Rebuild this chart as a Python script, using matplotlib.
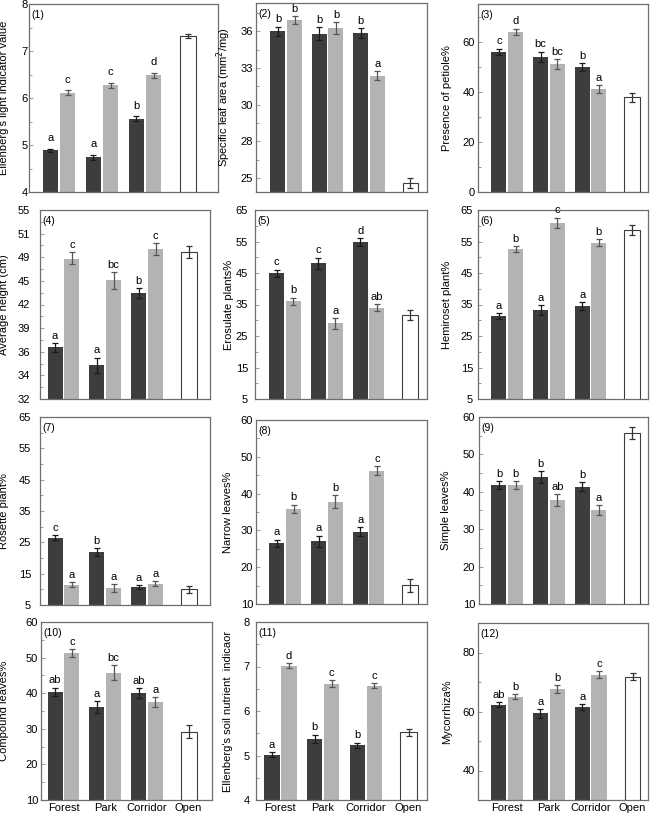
import numpy as np
import matplotlib
matplotlib.use("Agg")
import matplotlib.pyplot as plt

plt.rcParams['font.family'] = ['Liberation Sans', 'DejaVu Sans']

groups = ["Forest", "Park", "Corridor", "Open"]

ylabels = ["Ellenberg's light indicator value",
           "Specific leaf area (mm$^2$/mg)",
           "Presence of petiole%",
           "Average height (cm)",
           "Erosulate plants%",
           "Hemiroset plant%",
           "Rosette plant%",
           "Narrow leaves%",
           "Simple leaves%",
           "Compound leaves%",
           "Ellenberg's soil nutrient  indicaor",
           "Mycorrhiza%"]

# dark bars (Forest, Park, Corridor)
dark_mean = [[4.89, 4.74, 5.56], [36.0, 35.8, 35.86], [56.0, 54.0, 49.9],
             [36.57, 34.86, 43.46], [44.9, 48.1, 54.9], [31.3, 33.2, 34.6],
             [26.5, 21.9, 10.7], [26.5, 27.0, 29.7], [41.8, 44.0, 41.4],
             [40.4, 36.1, 40.0], [5.02, 5.37, 5.23], [62.3, 59.4, 61.5]]
dark_err = [[0.035, 0.055, 0.05], [0.37, 0.55, 0.4], [1.2, 2.0, 1.6],
            [0.56, 0.64, 0.63], [1.2, 1.8, 1.2], [0.9, 1.6, 1.2],
            [0.75, 1.2, 0.75], [1.0, 1.6, 1.1], [1.0, 1.6, 1.15],
            [1.2, 1.8, 1.35], [0.05, 0.1, 0.06], [0.8, 1.45, 1.1]]
dark_letters = [["a", "a", "b"], ["b", "b", "b"], ["c", "bc", "b"],
                ["a", "a", "b"], ["c", "c", "d"], ["a", "a", "a"],
                ["c", "b", "a"], ["a", "a", "a"], ["b", "b", "b"],
                ["ab", "a", "ab"], ["a", "b", "b"], ["ab", "a", "a"]]

# grey bars (Forest, Park, Corridor)
grey_mean = [[6.11, 6.27, 6.48], [36.9, 36.25, 32.37], [64.0, 51.1, 41.0],
             [48.66, 45.23, 49.71], [36.1, 29.0, 34.0], [52.7, 61.0, 54.6],
             [11.5, 10.4, 11.8], [35.9, 37.8, 46.2], [41.8, 37.8, 35.1],
             [51.3, 45.8, 37.4], [7.02, 6.61, 6.57], [65.0, 67.6, 72.5]]
grey_err = [[0.05, 0.057, 0.05], [0.31, 0.49, 0.4], [1.2, 2.0, 1.6],
            [0.77, 1.2, 0.49], [1.1, 1.7, 1.2], [0.9, 1.6, 1.1],
            [0.8, 1.3, 0.85], [1.1, 1.7, 1.2], [1.05, 1.7, 1.3],
            [1.1, 2.0, 1.4], [0.055, 0.08, 0.055], [0.85, 1.35, 1.1]]
grey_letters = [["c", "c", "d"], ["b", "b", "a"], ["d", "bc", "a"],
                ["c", "bc", "c"], ["b", "a", "ab"], ["b", "c", "b"],
                ["a", "a", "a"], ["b", "b", "c"], ["b", "ab", "a"],
                ["c", "bc", "a"], ["d", "c", "c"], ["b", "b", "c"]]

# open (single white bar)
open_mean = [7.32, 24.59, 37.8, 49.43, 31.7, 58.7, 10.0, 15.1, 55.7, 29.2, 5.52, 71.8]
open_err = [0.045, 0.44, 1.7, 0.53, 1.7, 1.55, 1.1, 1.8, 1.6, 1.8, 0.085, 1.1]

yticks = [[4, 5, 6, 7, 8], [25, 28, 30, 33, 36], [0, 20, 40, 60],
          [32, 34, 36, 39, 42, 45, 49, 51, 55],
          [5, 15, 25, 35, 45, 55, 65], [5, 15, 25, 35, 45, 55, 65],
          [5, 15, 25, 35, 45, 55, 65],
          [10, 20, 30, 40, 50, 60], [10, 20, 30, 40, 50, 60], [10, 20, 30, 40, 50, 60],
          [4, 5, 6, 7, 8], [40, 60, 80]]
ylims = [(4, 8), (23.86, 38.3), (0, 75), (32, 55), (5, 65), (5, 65), (5, 65),
         (10, 60), (10, 60), (10, 60), (4, 8), (30, 90)]
uneven = [False, True, False, True] + [False] * 8   # ticks evenly spaced, labels not

# layout in pixels: left, top, right, bottom
boxes = [(29, 4, 218, 192), (256, 3, 427, 192), (478, 4, 648, 192),
         (40, 210, 210, 399), (255, 210, 427, 399), (478, 210, 648, 399),
         (40, 417, 210, 605), (256, 420, 427, 604), (479, 417, 648, 604),
         (41, 622, 212, 800), (256, 622, 427, 800), (478, 623, 648, 800)]
xlims = [(-0.70, 3.70), (-0.73, 3.40), (-0.70, 3.38), (-0.56, 3.50),
         (-0.72, 3.40), (-0.70, 3.38), (-0.56, 3.51), (-0.70, 3.40),
         (-0.68, 3.38), (-0.54, 3.56), (-0.57, 3.43), (-0.69, 3.37)]
label_x = [9, 233, 452, 9, 234, 452, 9, 233, 451, 9, 233, 452]
ypads = [1, 3, 3, 10, 7, 5, 9, 3, 4, 3, 6, 3]

W, H = 650, 817
DARK, GREY = "#3d3d3d", "#b3b3b3"


def make_scale(ticks):
    v = np.array(ticks, float)
    p = np.arange(len(v), dtype=float)
    v = np.r_[v[0] - 5 * (v[1] - v[0]), v, v[-1] + 5 * (v[-1] - v[-2])]
    p = np.r_[-5.0, p, p[-1] + 5.0]
    return (lambda x: np.interp(x, v, p)), (lambda x: np.interp(x, p, v))


fig = plt.figure(figsize=(W / 100, H / 100), dpi=100)
x = np.arange(3)

for i in range(12):
    L, T, R, B = boxes[i]
    ax = fig.add_axes([L / W, 1 - B / H, (R - L) / W, (B - T) / H])

    if uneven[i]:
        fwd, inv = make_scale(yticks[i])
        ax.set_yscale('function', functions=(fwd, inv))
        pos = np.arange(len(yticks[i]))
        minors = inv(np.r_[pos - 0.5, pos[-1] + 0.5])
    else:
        t = np.array(yticks[i], float)
        step = t[1] - t[0]
        minors = np.r_[t - step / 2, t[-1] + step / 2]

    ax.bar(x - 0.2, dark_mean[i], width=0.36, color=DARK, zorder=2)
    ax.bar(x + 0.2, grey_mean[i], width=0.36, color=GREY, zorder=2)
    ax.bar(3, open_mean[i], width=0.38, color="white", edgecolor="#3d3d3d",
           linewidth=0.8, zorder=2)

    ax.errorbar(x - 0.2, dark_mean[i], yerr=dark_err[i], fmt='none', ecolor="#1a1a1a",
                elinewidth=0.9, capsize=2.5, capthick=0.9, zorder=3)
    ax.errorbar(x + 0.2, grey_mean[i], yerr=grey_err[i], fmt='none', ecolor="#555555",
                elinewidth=0.9, capsize=2.5, capthick=0.9, zorder=3)
    ax.errorbar([3], [open_mean[i]], yerr=[open_err[i]], fmt='none', ecolor="#333333",
                elinewidth=0.9, capsize=2.5, capthick=0.9, zorder=3)

    off = 5.5 if i == 0 else 3
    for j in range(3):
        ax.annotate(dark_letters[i][j], (x[j] - 0.2, dark_mean[i][j] + dark_err[i][j]),
                    xytext=(0, off), textcoords='offset points', ha='center',
                    va='baseline', fontsize=8)
        ax.annotate(grey_letters[i][j], (x[j] + 0.2, grey_mean[i][j] + grey_err[i][j]),
                    xytext=(0, off), textcoords='offset points', ha='center',
                    va='baseline', fontsize=8)

    ax.annotate("(%d)" % (i + 1), (0, 1), xycoords='axes fraction', xytext=(2, -4),
                textcoords='offset points', ha='left', va='top', fontsize=7.5)

    ax.set_xlim(*xlims[i])
    ax.set_ylim(*ylims[i])
    ax.set_yticks(yticks[i], [str(v) for v in yticks[i]])
    lo, hi = ylims[i]
    ax.set_yticks([m for m in minors if lo < m < hi], minor=True)
    ax.tick_params(axis='y', which='both', direction='in', color='#8a8a8a', width=0.6)
    ax.tick_params(axis='y', which='major', length=3, labelsize=8, pad=ypads[i] * 0.72)
    ax.tick_params(axis='y', which='minor', length=2)

    if i >= 9:
        ax.set_xticks(range(4), groups)
        ax.tick_params(axis='x', length=0, labelsize=8, pad=2)
    else:
        ax.set_xticks([])

    ax.set_ylabel(ylabels[i], fontsize=8)
    ax.yaxis.set_label_coords((label_x[i] - L) / (R - L), 0.5)

    for s in ax.spines.values():
        s.set_color("#6e6e6e")
        s.set_linewidth(0.9)

fig.savefig("out.png", dpi=100)
